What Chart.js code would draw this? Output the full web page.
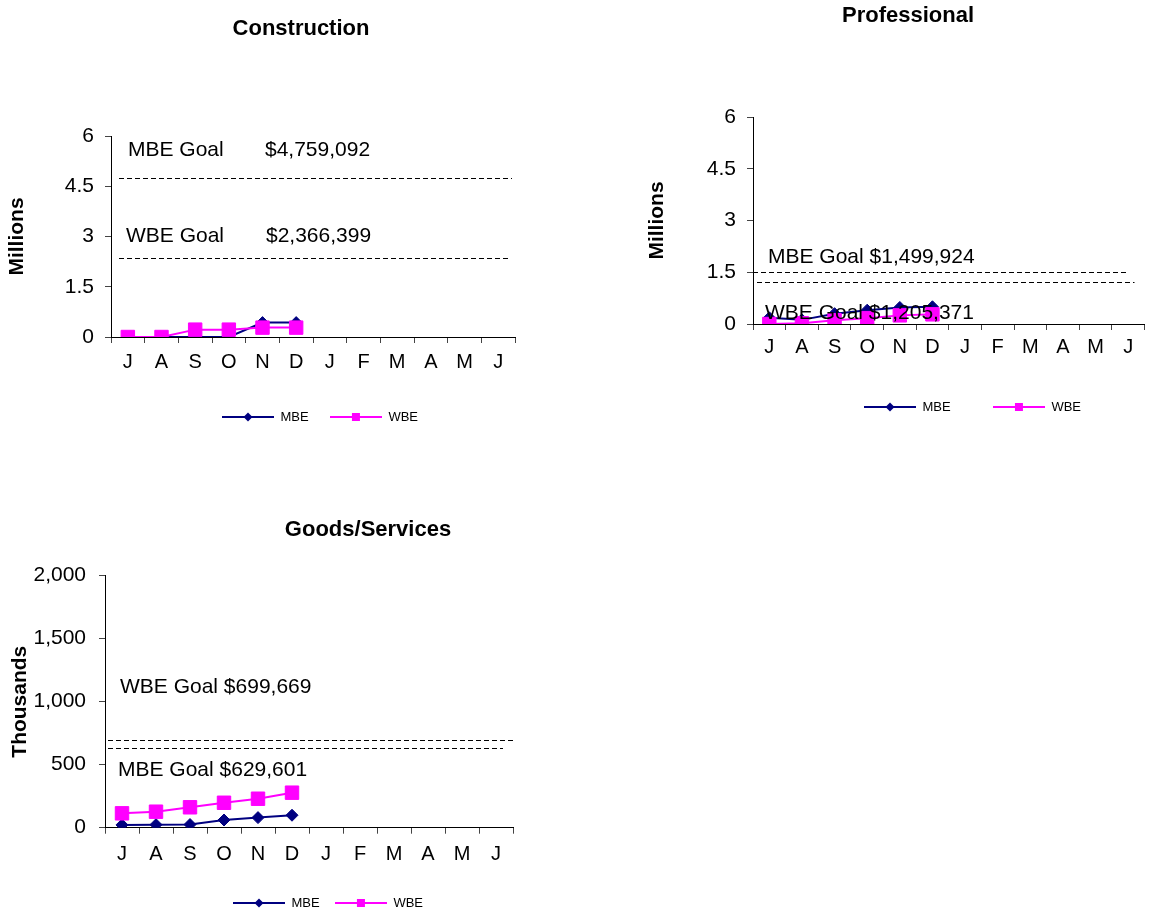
<!DOCTYPE html>
<html>
<head>
<meta charset="utf-8">
<title>MBE / WBE Participation</title>
<script src="https://cdn.jsdelivr.net/npm/chart.js@4.4.1/dist/chart.umd.min.js"></script>
<style>
  html, body { margin: 0; padding: 0; background: #fff; width: 1155px; height: 910px; overflow: hidden; }
  canvas { position: absolute; }
</style>
</head>
<body>
<canvas id="construction" width="620" height="450" style="left:0;top:0"></canvas>
<canvas id="professional" width="535" height="450" style="left:620px;top:0"></canvas>
<canvas id="goods" width="620" height="460" style="left:0;top:460px"></canvas>
<script>
// Fiscal-year months, July through June
const months = ['J', 'A', 'S', 'O', 'N', 'D', 'J', 'F', 'M', 'A', 'M', 'J'];
const goalNames = ['MBE', 'WBE'];

// Construction, cumulative awards in millions of dollars
const constructionMBE = [0, 0, 0, 0, 0.43, 0.43, null, null, null, null, null, null];
const constructionWBE = [0, 0, 0.22, 0.22, 0.28, 0.28, null, null, null, null, null, null];
const constructionGoals = [4759092, 2366399];   // MBE, WBE in dollars

// Professional, cumulative awards in millions of dollars
const professionalMBE = [0.18, 0.12, 0.3, 0.4, 0.48, 0.5, null, null, null, null, null, null];
const professionalWBE = [0, 0.02, 0.11, 0.17, 0.25, 0.28, null, null, null, null, null, null];
const professionalGoals = [1499924, 1205371];   // MBE, WBE in dollars

// Goods/Services, cumulative awards in thousands of dollars
const goodsMBE = [22, 24, 25, 61, 80, 99, null, null, null, null, null, null];
const goodsWBE = [114, 127, 162, 198, 230, 278, null, null, null, null, null, null];
const goodsGoals = [629601, 699669];            // MBE, WBE in dollars

const millionTicks = [0, 1.5, 3, 4.5, 6];
const thousandTicks = [0, 500, 1000, 1500, 2000];

const FONT = "'Liberation Sans', Arial, Helvetica, sans-serif";
const NAVY = '#000080';
const MAGENTA = '#FF00FF';
Chart.defaults.font.family = FONT;
Chart.defaults.color = '#000';

// Legend swatch: a short line with the series marker in the middle
function legendIcon(color, shape) {
  const c = document.createElement('canvas');
  c.width = 52; c.height = 12;
  const g = c.getContext('2d');
  g.strokeStyle = color; g.lineWidth = 2;
  g.beginPath(); g.moveTo(0, 6); g.lineTo(52, 6); g.stroke();
  g.fillStyle = color;
  g.beginPath();
  if (shape === 'diamond') {
    g.moveTo(26, 1.5); g.lineTo(30.5, 6); g.lineTo(26, 10.5); g.lineTo(21.5, 6); g.closePath();
  } else {
    g.rect(22, 2, 8, 8);
  }
  g.fill();
  return c;
}
const legendIcons = [legendIcon(NAVY, 'diamond'), legendIcon(MAGENTA, 'square')];

// Dashed goal lines with their captions, placed on the value axis
const goalPlugin = {
  id: 'goals',
  afterDatasetsDraw(chart, args, opts) {
    const { ctx, chartArea: a, scales: { y } } = chart;
    ctx.save();
    ctx.strokeStyle = '#000';
    ctx.lineWidth = 1;
    ctx.setLineDash([5, 3]);
    opts.amounts.forEach((amount, i) => {
      const line = opts.lines[i];
      const py = Math.round(y.getPixelForValue(amount / opts.unit)) + 0.5;
      ctx.beginPath();
      ctx.moveTo(a.left + line.from, py);
      ctx.lineTo(a.right - line.to, py);
      ctx.stroke();
    });
    ctx.setLineDash([]);
    ctx.font = `21px ${FONT}`;
    ctx.fillStyle = '#000';
    ctx.textBaseline = 'middle';
    ctx.textAlign = 'left';
    opts.amounts.forEach((amount, i) => {
      const lab = opts.labels[i];
      const name = `${opts.names[i]} Goal`;
      const money = '$' + amount.toLocaleString('en-US');
      const ty = a.top + lab.dy;
      if (lab.amountDx != null) {
        ctx.fillText(name, a.left + lab.dx, ty);
        ctx.fillText(money, a.left + lab.amountDx, ty);
      } else {
        ctx.fillText(`${name} ${money}`, a.left + lab.dx, ty);
      }
    });
    ctx.restore();
  }
};

// Centres the title and legend blocks on chosen x positions
const placeBlocks = {
  id: 'placeBlocks',
  afterLayout(chart, args, opts) {
    const centre = (box, cx) => {
      if (!box || cx == null) return;
      const half = (box.right - box.left) / 2;
      box.left = cx - half;
      box.right = cx + half;
    };
    centre(chart.titleBlock, opts.titleX);
    centre(chart.legend, opts.legendX);
  }
};

function buildChart(id, p) {
  return new Chart(document.getElementById(id), {
    type: 'line',
    data: {
      labels: months,
      datasets: [
        {
          label: 'MBE', data: p.mbe, order: 2,
          borderColor: NAVY, backgroundColor: NAVY, borderWidth: 2, tension: 0,
          pointStyle: 'rectRot', pointRadius: 6, pointBorderWidth: 1,
          pointBackgroundColor: NAVY, pointBorderColor: NAVY
        },
        {
          label: 'WBE', data: p.wbe, order: 1,
          borderColor: MAGENTA, backgroundColor: MAGENTA, borderWidth: 2, tension: 0,
          pointStyle: 'rect', pointRadius: 9.5, pointBorderWidth: 1,
          pointBackgroundColor: MAGENTA, pointBorderColor: MAGENTA
        }
      ]
    },
    options: {
      responsive: false,
      animation: false,
      events: [],
      layout: { padding: { left: 0, right: p.padRight, top: 0, bottom: p.padBottom } },
      scales: {
        x: {
          offset: true,
          grid: { offset: true, drawOnChartArea: false, tickLength: 6, color: '#444' },
          border: { color: '#000', width: 1 },
          ticks: { autoSkip: false, maxRotation: 0, padding: p.xPad, font: { size: 20 }, color: '#000' },
          afterFit: s => { s.height = p.xHeight; }
        },
        y: {
          min: p.ticks[0],
          max: p.ticks[p.ticks.length - 1],
          afterBuildTicks: s => { s.ticks = p.ticks.map(v => ({ value: v })); },
          grid: { drawOnChartArea: false, tickLength: 6, color: '#444' },
          border: { color: '#000', width: 1 },
          ticks: { padding: p.yPad, font: { size: 21 }, color: '#000', callback: v => Number(v).toLocaleString('en-US') },
          title: { display: true, text: p.yTitle, color: '#000', font: { size: 21, weight: 'bold' }, padding: { top: p.yTitlePad, bottom: 0 } },
          afterFit: s => { s.width = p.yWidth; }
        }
      },
      plugins: {
        title: {
          display: true, text: p.title, color: '#000',
          font: { size: 22, weight: 'bold' },
          padding: { top: p.titleTop, bottom: p.titleBottom }
        },
        legend: {
          position: 'bottom',
          labels: {
            usePointStyle: true,
            pointStyleWidth: 52,
            padding: p.legendGap,
            color: '#000',
            font: { size: 13 },
            generateLabels: chart => Chart.defaults.plugins.legend.labels.generateLabels(chart)
              .map(item => Object.assign(item, { pointStyle: legendIcons[item.datasetIndex] })),
            sort: (a, b) => a.datasetIndex - b.datasetIndex
          }
        },
        tooltip: { enabled: false },
        goals: p.goals,
        placeBlocks: { titleX: p.titleX, legendX: p.legendX }
      }
    },
    plugins: [goalPlugin, placeBlocks]
  });
}

buildChart('construction', {
  title: 'Construction', yTitle: 'Millions',
  mbe: constructionMBE, wbe: constructionWBE, ticks: millionTicks,
  padRight: 105, padBottom: 16.5, titleTop: 15.8, titleBottom: 93.8,
  yWidth: 111, yTitlePad: 4.4, yPad: 11, xHeight: 52.2, xPad: 7, legendGap: 21.3,
  titleX: 301, legendX: 320,
  goals: {
    amounts: constructionGoals, names: goalNames, unit: 1e6,
    lines: [{ from: 8, to: 3 }, { from: 8, to: 7 }],
    labels: [{ dx: 17, dy: 14, amountDx: 154 }, { dx: 15, dy: 100, amountDx: 155 }]
  }
});

buildChart('professional', {
  title: 'Professional', yTitle: 'Millions',
  mbe: professionalMBE, wbe: professionalWBE, ticks: millionTicks,
  padRight: 8, padBottom: 26.5, titleTop: 2.8, titleBottom: 87.8,
  yWidth: 133, yTitlePad: 24.4, yPad: 11, xHeight: 34.2, xPad: 5, legendGap: 42.3,
  titleX: 288, legendX: 352.5,
  goals: {
    amounts: professionalGoals, names: goalNames, unit: 1e6,
    lines: [{ from: 0, to: 17 }, { from: 4, to: 10 }],
    labels: [{ dx: 15, dy: 140 }, { dx: 12, dy: 196 }]
  }
});

buildChart('goods', {
  title: 'Goods/Services', yTitle: 'Thousands',
  mbe: goodsMBE, wbe: goodsWBE, ticks: thousandTicks,
  padRight: 107, padBottom: 0.5, titleTop: 56.8, titleBottom: 32.5,
  yWidth: 105, yTitlePad: 7.4, yPad: 13, xHeight: 53.5, xPad: 8.3, legendGap: 15.3,
  titleX: 368, legendX: 328,
  goals: {
    amounts: goodsGoals, names: goalNames, unit: 1e3,
    lines: [{ from: 3, to: 10 }, { from: 3, to: 0 }],
    labels: [{ dx: 13, dy: 194.3 }, { dx: 15, dy: 112 }]
  }
});
</script>
</body>
</html>
